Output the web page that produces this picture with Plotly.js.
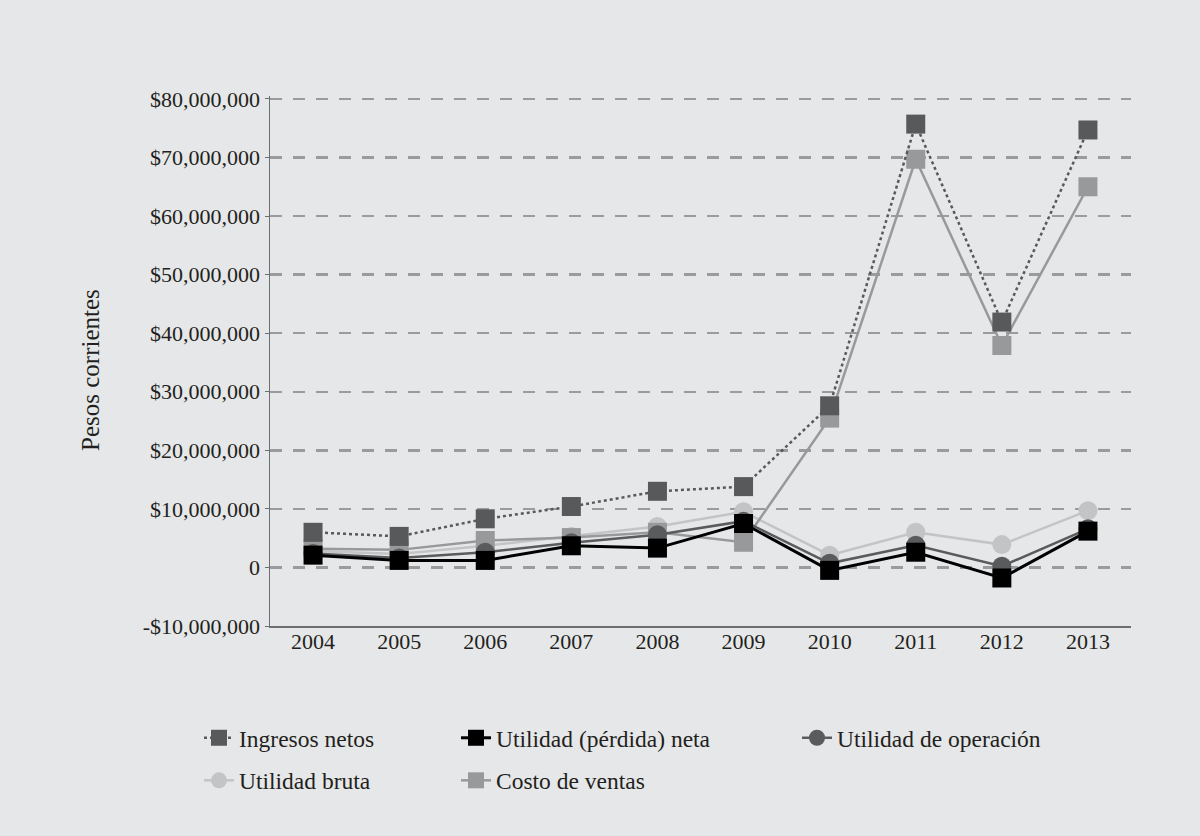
<!DOCTYPE html>
<html>
<head>
<meta charset="utf-8">
<script src="https://cdn.plot.ly/plotly-3.0.1.min.js"></script>
<style>
  html, body { margin: 0; padding: 0; background: #e6e7e8; }
  #chart { width: 1200px; height: 836px; }
</style>
</head>
<body>
<div id="chart"></div>
<script>
// Años del periodo
const years = ['2004', '2005', '2006', '2007', '2008', '2009', '2010', '2011', '2012', '2013'];

// Series en pesos corrientes
const ingresosNetos     = [6000000, 5300000, 8300000, 10400000, 13000000, 13800000, 27600000, 75700000, 41900000, 74700000];
const utilidadNeta      = [2100000, 1200000, 1200000, 3700000, 3300000, 7500000, -500000, 2600000, -1800000, 6200000];
const utilidadOperacion = [2400000, 1600000, 2600000, 4200000, 5600000, 7900000, 700000, 3800000, 200000, 6600000];
const utilidadBruta     = [2800000, 2300000, 3700000, 5300000, 7000000, 9500000, 2100000, 6000000, 3900000, 9700000];
const costoVentas       = [3200000, 3000000, 4600000, 5100000, 6000000, 4300000, 25500000, 69700000, 37900000, 65000000];

// Etiquetas del eje vertical
const yTickValues = [-10000000, 0, 10000000, 20000000, 30000000, 40000000, 50000000, 60000000, 70000000, 80000000];
const yTickLabels = ['-$10,000,000', '0', '$10,000,000', '$20,000,000', '$30,000,000', '$40,000,000',
                     '$50,000,000', '$60,000,000', '$70,000,000', '$80,000,000'];

const FONT = 'Liberation Serif, Times New Roman, serif';
const MS = 19;

// Orden de dibujo: las series claras al fondo, la utilidad neta encima
const traces = [
  {
    name: 'Utilidad bruta', x: years, y: utilidadBruta, type: 'scatter', mode: 'lines+markers',
    line: { color: '#c3c4c6', width: 2.5 },
    marker: { symbol: 'circle', size: MS, color: '#c3c4c6' },
    legend: 'legend', legendgroup: 'g4', legendrank: 2
  },
  {
    name: 'Costo de ventas', x: years, y: costoVentas, type: 'scatter', mode: 'lines+markers',
    line: { color: '#98999b', width: 2.5 },
    marker: { symbol: 'square', size: MS, color: '#98999b' },
    legend: 'legend2', legendgroup: 'g5', legendrank: 2
  },
  {
    name: 'Utilidad de operación', x: years, y: utilidadOperacion, type: 'scatter', mode: 'lines+markers',
    line: { color: '#5a5b5d', width: 2.5 },
    marker: { symbol: 'circle', size: MS, color: '#5a5b5d' },
    legend: 'legend3', legendgroup: 'g3', legendrank: 1
  },
  {
    name: 'Ingresos netos', x: years, y: ingresosNetos, type: 'scatter', mode: 'lines+markers',
    line: { color: '#58595b', width: 2.5, dash: 'dot' },
    marker: { symbol: 'square', size: MS, color: '#58595b' },
    legend: 'legend', legendgroup: 'g1', legendrank: 1
  },
  {
    name: 'Utilidad (pérdida) neta', x: years, y: utilidadNeta, type: 'scatter', mode: 'lines+markers',
    line: { color: '#000000', width: 3 },
    marker: { symbol: 'square', size: MS, color: '#000000' },
    legend: 'legend2', legendgroup: 'g2', legendrank: 1
  }
];

const legendBase = {
  xref: 'container', yref: 'container',
  xanchor: 'left', yanchor: 'top',
  orientation: 'v',
  bgcolor: 'rgba(0,0,0,0)',
  font: { family: FONT, size: 23.5, color: '#231f20' },
  traceorder: 'grouped',
  tracegroupgap: 9
};

const LEG_Y = 1 - 716 / 836;

const layout = {
  width: 1200,
  height: 836,
  paper_bgcolor: '#e6e7e8',
  plot_bgcolor: '#e6e7e8',
  // el tope del rango queda un poco sobre 80 millones para que su línea de cuadrícula se dibuje
  margin: { l: 270, r: 69, t: 96, b: 210, autoexpand: false },
  font: { family: FONT, size: 22, color: '#231f20' },
  showlegend: true,
  xaxis: {
    type: 'category',
    range: [-0.5, 9.5],
    showline: true, linecolor: '#6d6e70', linewidth: 1.5,
    showgrid: false, zeroline: false,
    ticks: '', tickangle: 0, ticklabelstandoff: -5,
    tickfont: { family: FONT, size: 22, color: '#231f20' }
  },
  yaxis: {
    range: [-10000000, 80500000],
    tickvals: yTickValues,
    ticktext: yTickLabels,
    showline: true, linecolor: '#6d6e70', linewidth: 1.5,
    ticks: 'outside', ticklen: 4, tickcolor: '#6d6e70',
    showgrid: true, gridcolor: '#9a9b9d', gridwidth: 2.5, griddash: '12px,11px',
    zeroline: false,
    tickfont: { family: FONT, size: 22, color: '#231f20' }
  },
  annotations: [{
    text: 'Pesos corrientes',
    xref: 'paper', yref: 'paper',
    x: (90 - 270) / 861, y: (626 - 370) / 530,
    xanchor: 'center', yanchor: 'middle',
    textangle: -90, showarrow: false,
    font: { family: FONT, size: 25, color: '#231f20' }
  }],
  legend:  Object.assign({}, legendBase, { x: 199 / 1200, y: LEG_Y }),
  legend2: Object.assign({}, legendBase, { x: 456 / 1200, y: LEG_Y }),
  legend3: Object.assign({}, legendBase, { x: 797 / 1200, y: LEG_Y })
};

Plotly.newPlot('chart', traces, layout, { displayModeBar: false, staticPlot: true });
</script>
</body>
</html>
